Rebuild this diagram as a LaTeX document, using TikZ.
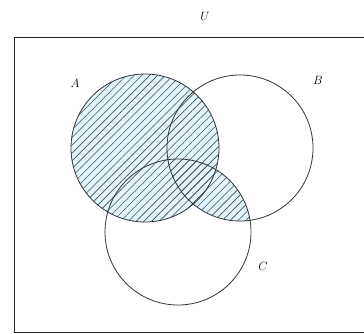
\documentclass[tikz,border=0pt]{standalone}
\usetikzlibrary{patterns.meta}
\begin{document}
\begin{tikzpicture}[x=1pt,y=-1pt,
  setline/.style={draw=black!80,line width=0.8pt},
  shadefill/.style={fill=cyan!12},
  hatchfill/.style={pattern={Lines[angle=45,distance=5.5pt,line width=0.6pt]},pattern color=black!70},
  lbl/.style={font=\large}]
\useasboundingbox (0,0) rectangle (364,334);
\coordinate (ca) at (145,148);
\coordinate (cb) at (240,148);
\coordinate (cc) at (178,232);
% shading: A union (B cap C)
\fill[shadefill] (ca) circle (74);
\begin{scope}\clip (cb) circle (73); \fill[shadefill] (cc) circle (73);\end{scope}
\fill[hatchfill] (ca) circle (74);
\begin{scope}\clip (cb) circle (73); \fill[hatchfill] (cc) circle (73);\end{scope}
\draw[setline] (ca) circle (74);
\draw[setline] (cb) circle (73);
\draw[setline] (cc) circle (73);
\node[draw=black!85,line width=1.4pt,minimum width=380pt,minimum height=295pt,anchor=north west,inner sep=0pt] (U) at (14,37) {};
\node[lbl] (lu) at (205,16) {$U$};
\node[lbl] (la) at (75,83) {$A$};
\node[lbl] (lb) at (318,80) {$B$};
\node[lbl] (lc) at (263,266) {$C$};
\end{tikzpicture}
\end{document}
